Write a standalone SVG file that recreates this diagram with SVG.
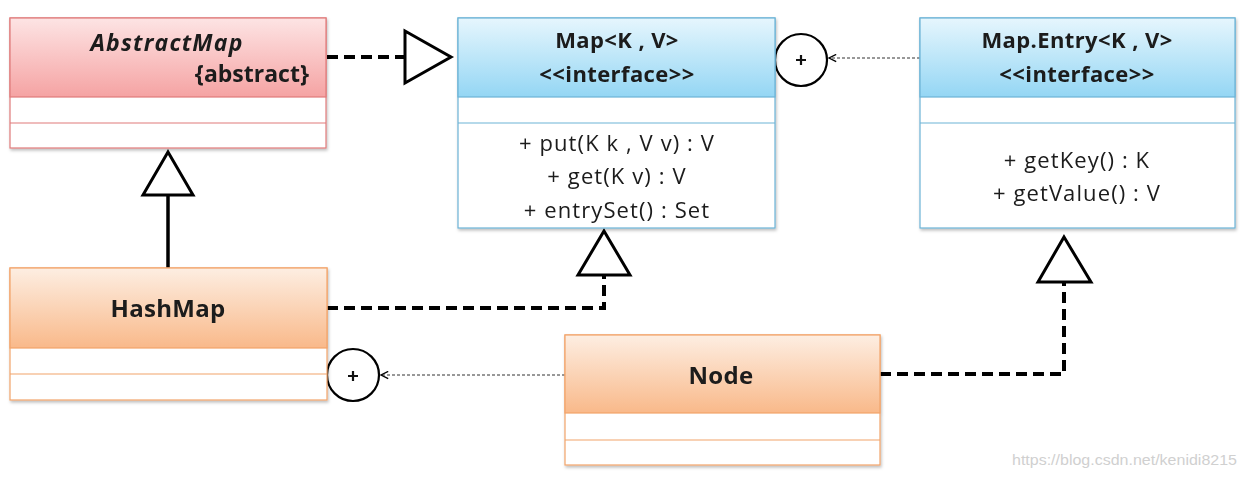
<svg xmlns="http://www.w3.org/2000/svg" width="1245" height="477" viewBox="0 0 1245 477">
<defs>
<linearGradient id="gRed" x1="0" y1="0" x2="0" y2="1"><stop offset="0" stop-color="#fde4e4"/><stop offset="1" stop-color="#f5a3a3"/></linearGradient>
<linearGradient id="gBlue" x1="0" y1="0" x2="0" y2="1"><stop offset="0" stop-color="#e6f6fd"/><stop offset="1" stop-color="#94d6f4"/></linearGradient>
<linearGradient id="gOrange" x1="0" y1="0" x2="0" y2="1"><stop offset="0" stop-color="#fdeee2"/><stop offset="1" stop-color="#f9b98a"/></linearGradient>
<filter id="sh" x="-5%" y="-5%" width="110%" height="115%"><feDropShadow dx="1" dy="2" stdDeviation="1.5" flood-color="#000" flood-opacity="0.25"/></filter>
<marker id="openArrow" viewBox="0 0 10 10" refX="9" refY="5" markerWidth="9" markerHeight="9" orient="auto" markerUnits="userSpaceOnUse"><path d="M1,1 L9,5 L1,9" fill="none" stroke="#000" stroke-width="1.5"/></marker>
</defs>
<style>
text{font-family:"Open Sans",Lato,"Liberation Sans",sans-serif;fill:#1a1a1a}
.title{font-size:22px;font-weight:bold;text-anchor:middle;letter-spacing:0.4px}
.big{font-size:24px;font-weight:bold;text-anchor:middle;letter-spacing:0.3px}
.meth{font-size:22px;text-anchor:middle;letter-spacing:1.1px}
.red{stroke:#e07b7b;stroke-width:1.2}
.blue{stroke:#6cb3d6;stroke-width:1.2}
.orange{stroke:#f2a46a;stroke-width:1.2}
.dash{fill:none;stroke:#000;stroke-width:4;stroke-dasharray:11,6}
.dot{fill:none;stroke:#333;stroke-width:1;stroke-dasharray:3,2}
.tri{fill:#fff;stroke:#000;stroke-width:3;stroke-linejoin:miter}
.circ{fill:#fff;stroke:#000;stroke-width:2.2}
.plus{fill:none;stroke:#111;stroke-width:2.2}
</style>
<rect width="1245" height="477" fill="#fff"/>

<g id="connectors">
<path class="dash" d="M327,57 H405"/>
<polygon class="tri" points="405,31 451,57 405,83"/>
<path d="M168,195 V268" stroke="#000" stroke-width="3.5" fill="none"/>
<polygon class="tri" points="168,152 193,195 143,195"/>
<path class="dash" d="M327,308 H604 V275"/>
<polygon class="tri" points="604,231 630,275 578,275"/>
<path class="dash" d="M880,374 H1064 V282"/>
<polygon class="tri" points="1064,237 1091,282 1038,282"/>
<circle class="circ" cx="801" cy="60" r="26"/>
<path class="plus" d="M796,60 H806 M801,55 V65"/>
<path class="dot" d="M920,58 H829" marker-end="url(#openArrow)"/>
<circle class="circ" cx="353" cy="375" r="26"/>
<path class="plus" d="M348,376 H358 M353,371 V381"/>
<path class="dot" d="M565,375 H381" marker-end="url(#openArrow)"/>
</g>

<g id="AbstractMap" filter="url(#sh)">
<rect x="10" y="18" width="316" height="130" fill="#fff" class="red"/>
<rect x="10" y="18" width="316" height="79" fill="url(#gRed)" class="red"/>
<line x1="10" y1="123" x2="326" y2="123" class="red"/>
<text x="167" y="51" font-size="23" font-weight="bold" font-style="italic" text-anchor="middle" letter-spacing="1.2">AbstractMap</text>
<text x="309" y="82" font-size="23" font-weight="bold" text-anchor="end">{abstract}</text>
</g>

<g id="Map" filter="url(#sh)">
<rect x="458" y="18" width="317" height="210" fill="#fff" class="blue"/>
<rect x="458" y="18" width="317" height="79" fill="url(#gBlue)" class="blue"/>
<line x1="458" y1="123" x2="775" y2="123" class="blue"/>
<text class="title" x="617" y="48">Map&lt;K , V&gt;</text>
<text class="title" x="617" y="82">&lt;&lt;interface&gt;&gt;</text>
<text class="meth" x="617" y="151">+ put(K k , V v) : V</text>
<text class="meth" x="617" y="184">+ get(K v) : V</text>
<text class="meth" x="617" y="218">+ entrySet() : Set</text>
</g>

<g id="MapEntry" filter="url(#sh)">
<rect x="920" y="18" width="315" height="210" fill="#fff" class="blue"/>
<rect x="920" y="18" width="315" height="79" fill="url(#gBlue)" class="blue"/>
<line x1="920" y1="123" x2="1235" y2="123" class="blue"/>
<text class="title" x="1077" y="48">Map.Entry&lt;K , V&gt;</text>
<text class="title" x="1077" y="82">&lt;&lt;interface&gt;&gt;</text>
<text class="meth" x="1077" y="168">+ getKey() : K</text>
<text class="meth" x="1077" y="201">+ getValue() : V</text>
</g>

<g id="HashMap" filter="url(#sh)">
<rect x="10" y="268" width="317" height="132" fill="#fff" class="orange"/>
<rect x="10" y="268" width="317" height="80" fill="url(#gOrange)" class="orange"/>
<line x1="10" y1="374" x2="327" y2="374" class="orange"/>
<text class="big" x="168" y="317">HashMap</text>
</g>

<g id="Node" filter="url(#sh)">
<rect x="565" y="335" width="315" height="130" fill="#fff" class="orange"/>
<rect x="565" y="335" width="315" height="78" fill="url(#gOrange)" class="orange"/>
<line x1="565" y1="440" x2="880" y2="440" class="orange"/>
<text class="big" x="721" y="384">Node</text>
</g>

<text x="1237" y="465" font-size="15" text-anchor="end" style="fill:#d0d0d0;font-family:'Liberation Sans Narrow','Liberation Sans',sans-serif" textLength="225" lengthAdjust="spacingAndGlyphs">https://blog.csdn.net/kenidi8215</text>
</svg>
